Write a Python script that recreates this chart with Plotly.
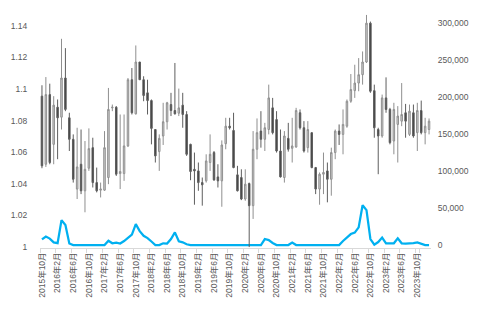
import plotly.graph_objects as go

months = [
    "2015年10月", "2015年11月", "2015年12月",
    "2016年1月", "2016年2月", "2016年3月", "2016年4月", "2016年5月", "2016年6月",
    "2016年7月", "2016年8月", "2016年9月", "2016年10月", "2016年11月", "2016年12月",
    "2017年1月", "2017年2月", "2017年3月", "2017年4月", "2017年5月", "2017年6月",
    "2017年7月", "2017年8月", "2017年9月", "2017年10月", "2017年11月", "2017年12月",
    "2018年1月", "2018年2月", "2018年3月", "2018年4月", "2018年5月", "2018年6月",
    "2018年7月", "2018年8月", "2018年9月", "2018年10月", "2018年11月", "2018年12月",
    "2019年1月", "2019年2月", "2019年3月", "2019年4月", "2019年5月", "2019年6月",
    "2019年7月", "2019年8月", "2019年9月", "2019年10月", "2019年11月", "2019年12月",
    "2020年1月", "2020年2月", "2020年3月", "2020年4月", "2020年5月", "2020年6月",
    "2020年7月", "2020年8月", "2020年9月", "2020年10月", "2020年11月", "2020年12月",
    "2021年1月", "2021年2月", "2021年3月", "2021年4月", "2021年5月", "2021年6月",
    "2021年7月", "2021年8月", "2021年9月", "2021年10月", "2021年11月", "2021年12月",
    "2022年1月", "2022年2月", "2022年3月", "2022年4月", "2022年5月", "2022年6月",
    "2022年7月", "2022年8月", "2022年9月", "2022年10月", "2022年11月", "2022年12月",
    "2023年1月", "2023年2月", "2023年3月", "2023年4月", "2023年5月", "2023年6月",
    "2023年7月", "2023年8月", "2023年9月", "2023年10月", "2023年11月", "2023年12月",
    "2024年1月",
]

open_ = [
    1.0955, 1.0524, 1.0965, 1.0650, 1.0885, 1.0822, 1.1070, 1.0818, 1.0682, 1.0367,
    1.0524, 1.0356, 1.0499, 1.0629, 1.0408, 1.0360, 1.0360, 1.0440, 1.0881, 1.0885,
    1.0465, 1.0465, 1.0640, 1.1059, 1.0843, 1.1171, 1.1059, 1.0976, 1.0927, 1.0744,
    1.0604, 1.0703, 1.0793, 1.0902, 1.0864, 1.0847, 1.0898, 1.0839, 1.0650, 1.0492,
    1.0482, 1.0408, 1.0419, 1.0535, 1.0598, 1.0444, 1.0419, 1.0654, 1.0765, 1.0738,
    1.0457, 1.0440, 1.0304, 1.0402, 1.0262, 1.0619, 1.0734, 1.0682, 1.0744, 1.0881,
    1.0807, 1.0608, 1.0440, 1.0688, 1.0625, 1.0633, 1.0850, 1.0755, 1.0629, 1.0724,
    1.0503, 1.0367, 1.0461, 1.0482, 1.0429, 1.0598, 1.0734, 1.0713, 1.0765, 1.0923,
    1.0990, 1.1038, 1.1091, 1.1171, 1.1417, 1.0990, 1.0744, 1.0703, 1.0944, 1.0871,
    1.0671, 1.0776, 1.0797, 1.0850, 1.0713, 1.0850, 1.0724, 1.0864, 1.0724, 1.0744,
]

high = [
    1.1024, 1.1076, 1.1034, 1.0955, 1.0934, 1.1318, 1.1259, 1.0850, 1.0713, 1.0755,
    1.0744, 1.0671, 1.0751, 1.0692, 1.0503, 1.0408, 1.0734, 1.1007, 1.0902, 1.0892,
    1.0839, 1.0839, 1.1070, 1.1133, 1.1276, 1.1171, 1.1081, 1.1059, 1.0934, 1.0744,
    1.0713, 1.0913, 1.0919, 1.0976, 1.1165, 1.1003, 1.0976, 1.0860, 1.0654, 1.0598,
    1.0535, 1.0440, 1.0587, 1.0713, 1.0608, 1.0524, 1.0675, 1.0818, 1.0818, 1.0850,
    1.0514, 1.0492, 1.0492, 1.0408, 1.0734, 1.0814, 1.0860, 1.0786, 1.1028, 1.0944,
    1.0860, 1.0744, 1.0734, 1.0786, 1.0818, 1.0881, 1.0871, 1.0797, 1.0797, 1.0724,
    1.0507, 1.0472, 1.0598, 1.0535, 1.0629, 1.0744, 1.0776, 1.0871, 1.0934, 1.1095,
    1.1154, 1.1196, 1.1238, 1.1469, 1.1427, 1.1028, 1.0755, 1.0965, 1.1074, 1.0881,
    1.0913, 1.0892, 1.1038, 1.0906, 1.0902, 1.0902, 1.0913, 1.0927, 1.0818, 1.0814,
]

low = [
    1.0499, 1.0507, 1.0524, 1.0524, 1.0556, 1.0744, 1.0860, 1.0608, 1.0408, 1.0304,
    1.0335, 1.0220, 1.0482, 1.0377, 1.0346, 1.0314, 1.0356, 1.0398, 1.0860, 1.0450,
    1.0367, 1.0419, 1.0633, 1.0839, 1.0839, 1.1059, 1.0923, 1.0839, 1.0650, 1.0535,
    1.0482, 1.0646, 1.0744, 1.0829, 1.0839, 1.0829, 1.0755, 1.0577, 1.0423, 1.0268,
    1.0356, 1.0262, 1.0408, 1.0482, 1.0419, 1.0377, 1.0255, 1.0619, 1.0744, 1.0499,
    1.0352, 1.0297, 1.0293, 1.0000, 1.0178, 1.0556, 1.0629, 1.0608, 1.0713, 1.0713,
    1.0598, 1.0440, 1.0408, 1.0604, 1.0535, 1.0629, 1.0744, 1.0598, 1.0598, 1.0499,
    1.0335, 1.0268, 1.0335, 1.0283, 1.0325, 1.0556, 1.0646, 1.0587, 1.0755, 1.0913,
    1.0944, 1.0986, 1.1028, 1.1165, 1.0976, 1.0692, 1.0461, 1.0692, 1.0850, 1.0650,
    1.0587, 1.0535, 1.0765, 1.0692, 1.0703, 1.0692, 1.0608, 1.0713, 1.0650, 1.0713,
]

close = [
    1.0514, 1.0965, 1.0535, 1.0898, 1.0818, 1.1070, 1.0871, 1.0682, 1.0429, 1.0507,
    1.0356, 1.0492, 1.0623, 1.0408, 1.0356, 1.0367, 1.0629, 1.0871, 1.0885, 1.0461,
    1.0478, 1.0640, 1.1059, 1.0850, 1.1171, 1.1059, 1.0959, 1.0927, 1.0751, 1.0577,
    1.0688, 1.0793, 1.0913, 1.0864, 1.0843, 1.0881, 1.0839, 1.0587, 1.0478, 1.0482,
    1.0408, 1.0394, 1.0545, 1.0587, 1.0425, 1.0419, 1.0646, 1.0765, 1.0755, 1.0503,
    1.0356, 1.0304, 1.0398, 1.0262, 1.0619, 1.0724, 1.0682, 1.0755, 1.0944, 1.0724,
    1.0608, 1.0444, 1.0703, 1.0619, 1.0640, 1.0864, 1.0755, 1.0608, 1.0744, 1.0503,
    1.0367, 1.0461, 1.0472, 1.0429, 1.0598, 1.0734, 1.0713, 1.0776, 1.0923, 1.0997,
    1.1038, 1.1091, 1.1171, 1.1417, 1.0986, 1.0755, 1.0703, 1.0944, 1.0871, 1.0661,
    1.0871, 1.0829, 1.0839, 1.0797, 1.0860, 1.0703, 1.0864, 1.0724, 1.0765, 1.0797,
]

line_values = [
    7500, 11400, 8700, 3600, 2500, 33600, 26900, 2000, 0, 0,
    0, 0, 0, 0, 0, 0, 0, 5800, 2300, 3100,
    2000, 5400, 9400, 14100, 28200, 18800, 12500, 9400, 4700, 0,
    0, 2300, 2000, 8100, 17100, 5000, 3600, 1000, 0, 0,
    0, 0, 0, 0, 0, 0, 0, 0, 0, 0,
    0, 0, 0, 0, 0, 0, 0, 8100, 6700, 2700,
    0, 0, 0, 0, 3400, 0, 0, 0, 0, 0,
    0, 0, 0, 0, 0, 0, 0, 5400, 10800, 14800,
    16800, 23800, 53800, 47100, 8100, 500, 4000, 10100, 2300, 2000,
    2300, 9000, 2300, 2000, 2000, 2700, 3600, 2000, 0, 0,
]

left_tickvals = [1.0, 1.02, 1.04, 1.06, 1.08, 1.10, 1.12, 1.14]
left_ticktext = ["1", "1.02", "1.04", "1.06", "1.08", "1.1", "1.12", "1.14"]
right_tickvals = [0, 50000, 100000, 150000, 200000, 250000, 300000]
right_ticktext = ["0", "50,000", "100,000", "150,000", "200,000", "250,000", "300,000"]
x_tickvals = months[0::4]

FONT = "Liberation Sans, Arial, Noto Sans CJK JP, sans-serif"
TXT = "#595959"

fig = go.Figure()

fig.add_trace(go.Scatter(
    x=months, y=line_values, mode="lines",
    line=dict(color="#00B0F0", width=2.25),
    yaxis="y", hoverinfo="skip",
))

fig.add_trace(go.Candlestick(
    x=months, open=open_, high=high, low=low, close=close,
    yaxis="y2",
    increasing=dict(line=dict(color="#8f8f8f", width=1), fillcolor="#d2d2d2"),
    decreasing=dict(line=dict(color="#5e5e5e", width=1), fillcolor="#3c3c3c"),
    whiskerwidth=0,
))

fig.update_layout(
    width=480, height=309,
    margin=dict(l=32, r=43, t=11, b=60),
    paper_bgcolor="white", plot_bgcolor="white",
    showlegend=False,
    boxgap=0.45,
    font=dict(family=FONT, size=8.5, color=TXT),
    xaxis=dict(
        type="category", categoryorder="array", categoryarray=months,
        range=[-0.5, len(months) - 0.5],
        tickmode="array", tickvals=x_tickvals, ticktext=x_tickvals,
        tickangle=-90, tickfont=dict(family=FONT, size=8.5, color=TXT),
        showline=True, linecolor="#d9d9d9", linewidth=1,
        ticks="outside", ticklen=4, tickcolor="#d9d9d9", tickson="boundaries",
        showgrid=False, zeroline=False,
        rangeslider=dict(visible=False),
    ),
    yaxis=dict(
        side="right", range=[-4036, 316122],
        tickmode="array", tickvals=right_tickvals, ticktext=right_ticktext,
        tickfont=dict(family=FONT, size=8.5, color=TXT),
        ticks="outside", ticklen=4, tickcolor="rgba(0,0,0,0)",
        showgrid=False, zeroline=False, showline=False,
    ),
    yaxis2=dict(
        side="left", overlaying="y", range=[0.9994, 1.1494],
        tickmode="array", tickvals=left_tickvals, ticktext=left_ticktext,
        tickfont=dict(family=FONT, size=8.5, color=TXT),
        ticks="outside", ticklen=10, tickcolor="rgba(0,0,0,0)",
        showgrid=False, zeroline=False, showline=False,
    ),
)

fig.write_html("out.html")
